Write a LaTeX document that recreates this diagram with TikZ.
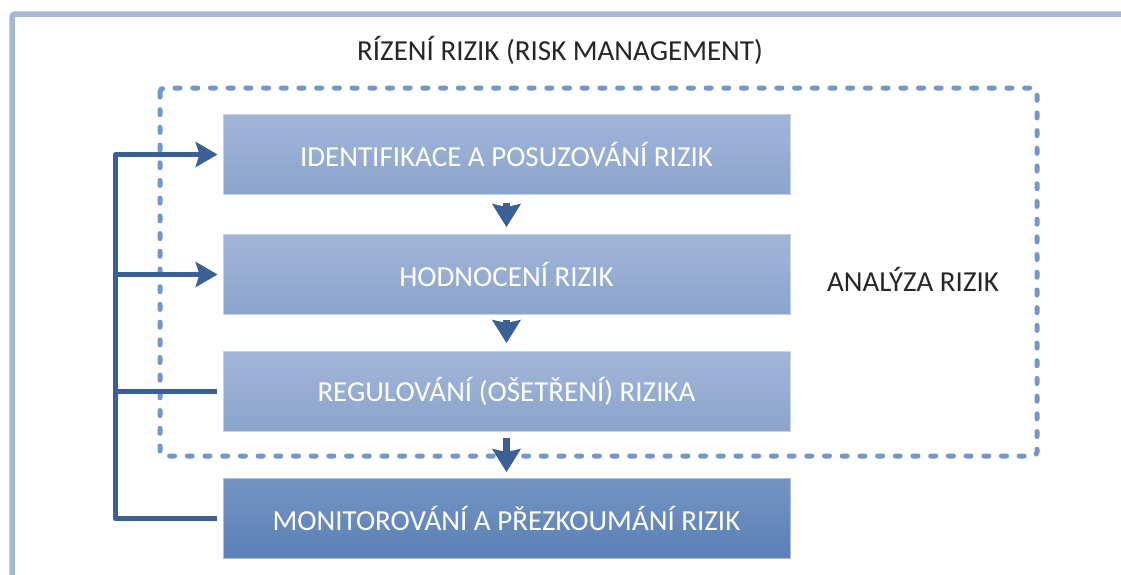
\documentclass[tikz,border=0pt]{standalone}
\usepackage{fontspec}
\setmainfont{Carlito}
\usetikzlibrary{arrows.meta}
\definecolor{framec}{HTML}{A5B7D8}
\definecolor{dashc}{HTML}{7397C8}
\definecolor{linec}{HTML}{3B6096}
\definecolor{txtc}{HTML}{262626}
\definecolor{boxtop}{HTML}{A2B5D7}
\definecolor{boxbot}{HTML}{8BA4CC}
\definecolor{darktop}{HTML}{7594C3}
\definecolor{darkbot}{HTML}{5A80B6}
\tikzset{
  stepbox/.style={minimum width=567pt, minimum height=80pt, inner sep=0pt,
    top color=boxtop, bottom color=boxbot, draw=boxtop!60!white, line width=0.8pt,
    text=white, font=\fontsize{29}{34}\selectfont},
  darkbox/.style={stepbox, top color=darktop, bottom color=darkbot, draw=darktop!60!white},
  conn/.style={draw=linec, line width=5pt, line join=round},
  connarrow/.style={conn, -{Stealth[length=22pt,width=25pt,inset=4pt]}, shorten >=5pt},
  downarrow/.style={draw=linec, line width=7.5pt, -{Stealth[length=23pt,width=28pt,inset=3pt]}},
  label/.style={text=txtc, font=\fontsize{29}{34}\selectfont, inner sep=0pt},
}
\begin{document}
\begin{tikzpicture}[x=1pt,y=-1pt]
\useasboundingbox (0,0) rectangle (1121,574);
\clip (0,0) rectangle (1121,574);
% outer frame
\draw[framec, line width=5.5pt, rounded corners=3pt] (12,600) -- (12,14) -- (1140,14);
% dashed analysis frame
\draw[dashc, line width=5pt, line cap=round, dash pattern=on 5pt off 12.7pt, rounded corners=4pt]
  (160,88) rectangle (1037,456);
% title and label
\node[label] (title) at (560,50) {RÍZENÍ RIZIK (RISK MANAGEMENT)};
\node[label] (analyza) at (913,279) {ANALÝZA RIZIK};
% boxes
\node[stepbox] (b1) at (506.5,154.5) {IDENTIFIKACE A POSUZOVÁNÍ RIZIK};
\node[stepbox] (b2) at (506.5,274.5) {HODNOCENÍ RIZIK};
\node[stepbox] (b3) at (506.5,391.5) {REGULOVÁNÍ (OŠETŘENÍ) RIZIKA};
\node[darkbox] (b4) at (506.5,518.5) {MONITOROVÁNÍ A PŘEZKOUMÁNÍ RIZIK};
% down arrows
\draw[downarrow, shorten <=8pt, shorten >=7pt] (b1.south) -- (b2.north);
\draw[downarrow, shorten <=5pt, shorten >=8pt] (b2.south) -- (b3.north);
\draw[downarrow, shorten <=6pt, shorten >=6pt] (b3.south) -- (b4.north);
% feedback bus
\coordinate (bus) at (115.5,0);
\draw[connarrow, shorten <=6pt] (b4.west) -- (b4.west -| bus) |- (b1.west);
\draw[connarrow] (b2.west -| bus) -- (b2.west);
\draw[conn, shorten <=6pt] (b3.west) -- (b3.west -| bus);
\end{tikzpicture}
\end{document}
